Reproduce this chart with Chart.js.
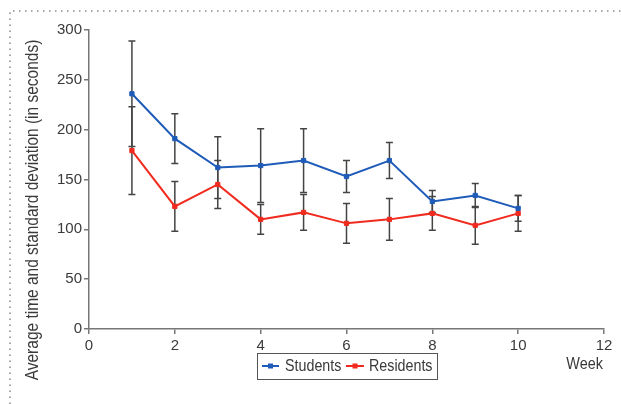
<!DOCTYPE html>
<html>
<head>
<meta charset="utf-8">
<script src="https://cdn.jsdelivr.net/npm/chart.js@4.4.1/dist/chart.umd.min.js"></script>
<style>
  html, body { margin: 0; padding: 0; background: #fff; }
</style>
</head>
<body>
<canvas id="myChart" width="621" height="404"></canvas>
<script>
// values
const weeks = [1, 2, 3, 4, 5, 6, 7, 8, 9, 10];
const students = [236, 191, 162, 164, 169, 153, 169, 128, 134, 121];
const studentsSD = [53, 25, 31, 37, 32, 16, 18, 11, 12, 13];
const residents = [179, 123, 145, 110, 117, 106, 110, 116, 104, 116];
const residentsSD = [44, 25, 24, 15, 18, 20, 21, 17, 19, 18];
const xTicks = [0, 2, 4, 6, 8, 10, 12];
const yTicks = [0, 50, 100, 150, 200, 250, 300];

const FONT = "'Liberation Sans', Arial, sans-serif";
const BLUE = '#1f5bb8';
const RED = '#f02a1e';
const TEXT = '#3a3a3a';
const AXIS = '#777';

const toPoints = vals => weeks.map((w, i) => ({ x: w, y: vals[i] }));
const sdByLabel = { Students: studentsSD, Residents: residentsSD };

// narrow-looking text: squeeze along the writing direction
function narrowText(ctx, text, x, y, size, sx, align, angle) {
  ctx.save();
  ctx.translate(x, y);
  if (angle) ctx.rotate(angle);
  ctx.scale(sx, 1);
  ctx.font = size + 'px ' + FONT;
  ctx.textAlign = align;
  ctx.textBaseline = 'middle';
  ctx.fillText(text, 0, 0);
  ctx.restore();
}

// whiskers drawn through the chart scales
const errorBars = {
  id: 'errorBars',
  beforeDatasetsDraw(chart) {
    const { ctx, scales: { x, y } } = chart;
    ctx.save();
    ctx.strokeStyle = '#444';
    ctx.lineWidth = 1.5;
    chart.data.datasets.forEach(ds => {
      const sd = sdByLabel[ds.label];
      ds.data.forEach((p, i) => {
        const px = x.getPixelForValue(p.x);
        const top = y.getPixelForValue(p.y + sd[i]);
        const bot = y.getPixelForValue(p.y - sd[i]);
        ctx.beginPath();
        ctx.moveTo(px, top); ctx.lineTo(px, bot);
        ctx.moveTo(px - 3.5, top); ctx.lineTo(px + 3.5, top);
        ctx.moveTo(px - 3.5, bot); ctx.lineTo(px + 3.5, bot);
        ctx.stroke();
      });
    });
    ctx.restore();
  }
};

// dotted frame, axis titles, boxed legend
const decor = {
  id: 'decor',
  beforeDraw(chart) {
    const ctx = chart.ctx;
    ctx.save();
    ctx.fillStyle = '#fff';
    ctx.fillRect(0, 0, chart.width, chart.height);
    ctx.strokeStyle = '#888';
    ctx.lineWidth = 1.5;
    ctx.setLineDash([1.5, 4.5]);
    ctx.beginPath();
    ctx.moveTo(10, 404); ctx.lineTo(10, 11); ctx.lineTo(621, 11);
    ctx.stroke();
    ctx.restore();
  },
  afterDraw(chart) {
    const ctx = chart.ctx;
    ctx.save();
    ctx.fillStyle = TEXT;

    narrowText(ctx, 'Average time and standard deviation (in seconds)', 33, 210, 19, 0.815, 'center', -Math.PI / 2);
    narrowText(ctx, 'Week', 603, 364, 17, 0.85, 'right');

    // legend
    ctx.strokeStyle = '#555';
    ctx.lineWidth = 1;
    ctx.strokeRect(257.5, 353.5, 180, 26);
    const items = [
      { label: 'Students', color: BLUE, x0: 262, x1: 279, tx: 285 },
      { label: 'Residents', color: RED, x0: 346, x1: 364, tx: 369 }
    ];
    items.forEach(it => {
      ctx.strokeStyle = it.color;
      ctx.lineWidth = 2;
      ctx.beginPath();
      ctx.moveTo(it.x0, 366); ctx.lineTo(it.x1, 366);
      ctx.stroke();
      ctx.fillStyle = it.color;
      const cx = (it.x0 + it.x1) / 2;
      ctx.fillRect(cx - 2.5, 363.5, 5, 5);
      ctx.fillStyle = TEXT;
      narrowText(ctx, it.label, it.tx, 366, 17, 0.84, 'left');
    });
    ctx.restore();
  }
};

const ctx = document.getElementById('myChart').getContext('2d');
const myChart = new Chart(ctx, {
  type: 'scatter',
  data: {
    datasets: [
      {
        label: 'Students',
        data: toPoints(students),
        showLine: true,
        borderColor: BLUE,
        backgroundColor: BLUE,
        borderWidth: 2,
        pointStyle: 'rect',
        pointRadius: 3,
        pointBorderWidth: 1
      },
      {
        label: 'Residents',
        data: toPoints(residents),
        showLine: true,
        borderColor: RED,
        backgroundColor: RED,
        borderWidth: 2,
        pointStyle: 'rect',
        pointRadius: 3,
        pointBorderWidth: 1
      }
    ]
  },
  options: {
    responsive: false,
    animation: false,
    layout: { padding: { top: 30, right: 17, left: 0, bottom: 0 } },
    plugins: {
      legend: { display: false },
      tooltip: { enabled: false }
    },
    scales: {
      x: {
        type: 'linear',
        min: 0,
        max: 12,
        afterBuildTicks: scale => { scale.ticks = xTicks.map(v => ({ value: v })); },
        afterFit: scale => { scale.height = 75; },
        ticks: { color: TEXT, font: { size: 15, family: FONT }, padding: 3 },
        grid: { drawOnChartArea: false, drawTicks: true, tickLength: 5, color: AXIS, lineWidth: 1.5 },
        border: { color: AXIS, width: 1.5 }
      },
      y: {
        min: 0,
        max: 300,
        afterBuildTicks: scale => { scale.ticks = yTicks.map(v => ({ value: v })); },
        afterFit: scale => { scale.width = 89; },
        ticks: { color: TEXT, font: { size: 15, family: FONT }, padding: 2 },
        grid: { drawOnChartArea: false, drawTicks: true, tickLength: 5, color: AXIS, lineWidth: 1.5 },
        border: { color: AXIS, width: 1.5 }
      }
    }
  },
  plugins: [errorBars, decor]
});
</script>
</body>
</html>
